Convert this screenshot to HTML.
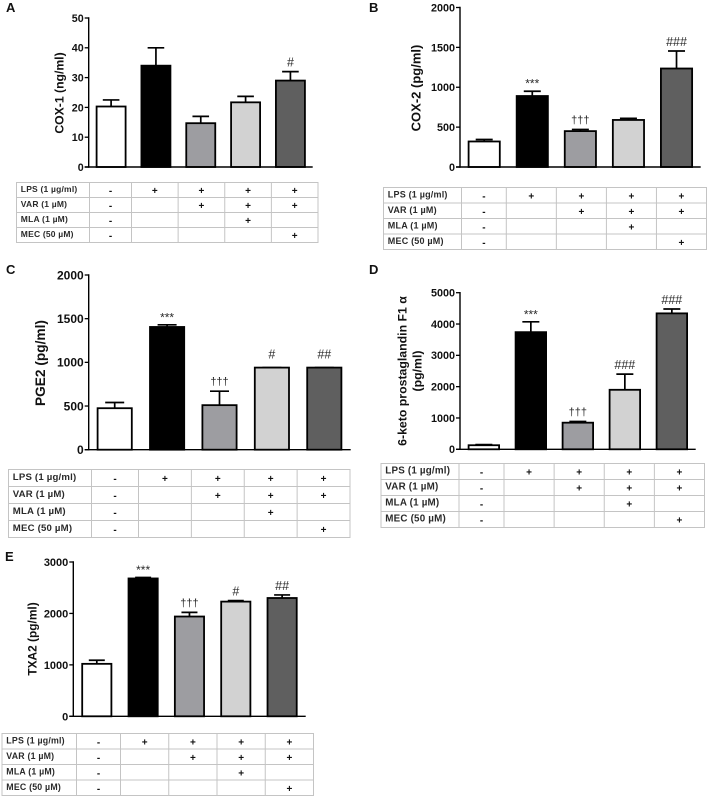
<!DOCTYPE html>
<html>
<head>
<meta charset="utf-8">
<title>Prostanoid and COX bar charts</title>
<style>
html,body{margin:0;padding:0;background:#fff;width:708px;height:797px;overflow:hidden}
svg{display:block;filter:blur(0.35px)}
text{font-family:"Liberation Sans",sans-serif}
</style>
</head>
<body>
<svg id="figure" xmlns="http://www.w3.org/2000/svg" width="708" height="797" viewBox="0 0 708 797"></svg>
<script>
// Data
const groupFills = ['#ffffff', '#000000', '#9d9da1', '#d2d2d2', '#5f5f5f'];
const rowLabels = ['LPS (1 µg/ml)', 'VAR (1 µM)', 'MLA (1 µM)', 'MEC (50 µM)'];
const rowMarksLps = ['-', '+', '+', '+', '+'];
const rowMarksVar = ['-', '', '+', '+', '+'];
const rowMarksMla = ['-', '', '', '+', ''];
const rowMarksMec = ['-', '', '', '', '+'];

const valuesA = [20.3, 34, 14.7, 21.7, 29];
const errorsA = [22.5, 40, 17, 23.7, 32];
const ticksA = [0, 10, 20, 30, 40, 50];
const sigA = ['', '', '', '', '#'];

const valuesB = [320, 890, 450, 590, 1235];
const errorsB = [345, 950, 470, 610, 1455];
const ticksB = [0, 500, 1000, 1500, 2000];
const sigB = ['', '***', '†††', '', '###'];

const valuesC = [475, 1405, 510, 940, 940];
const errorsC = [540, 1430, 670, 940, 940];
const ticksC = [0, 500, 1000, 1500, 2000];
const sigC = ['', '***', '†††', '#', '##'];

const valuesD = [130, 3740, 850, 1900, 4340];
const errorsD = [150, 4070, 890, 2400, 4480];
const ticksD = [0, 1000, 2000, 3000, 4000, 5000];
const sigD = ['', '***', '†††', '###', '###'];

const valuesE = [1020, 2680, 1940, 2230, 2300];
const errorsE = [1090, 2700, 2020, 2250, 2360];
const ticksE = [0, 1000, 2000, 3000];
const sigE = ['', '***', '†††', '#', '##'];

const svg = document.getElementById('figure');
const NS = 'http://www.w3.org/2000/svg';

function make(parent, tag, props, content) {
  const node = document.createElementNS(NS, tag);
  for (const k in props) node.setAttribute(k, props[k]);
  if (content !== undefined) node.textContent = content;
  parent.appendChild(node);
  return node;
}

function sigStyle(s, errY, flat) {
  const lift = flat ? 4 : 0;
  if (s.charAt(0) === '*') return {size: 12, y: errY - 3.5 - lift};
  if (s.charAt(0) === '†') return {size: 11, y: errY - 6 - lift};
  return {size: 12.5, y: errY - 5 - lift};
}

function drawPanel(id, values, errors, ticks, sig, g) {
  const panel = make(svg, 'g', {});
  
  

  const letter = make(panel, 'text', {x: g.letterX, y: g.letterY, 'font-size': 13, 'font-weight': 'bold', fill: '#111'}, id.toUpperCase());
  
  

  const maxTick = ticks[ticks.length - 1];
  const yOf = v => g.bottom - (v / maxTick) * (g.bottom - g.top);

  // bars and errors
  values.forEach((v, i) => {
    const x = g.barStart + i * g.barStep;
    const cx = x + g.barWidth / 2;
    const errY = yOf(errors[i]);
    const stem = make(panel, 'path', {d: 'M' + cx + ' ' + yOf(v) + 'V' + errY + 'M' + (cx - g.capHalf) + ' ' + errY + 'H' + (cx + g.capHalf), stroke: '#000', 'stroke-width': 1.7, fill: 'none'});
    
    
    const bar = make(panel, 'rect', {x: x, y: yOf(v), width: g.barWidth, height: g.bottom - yOf(v), fill: groupFills[i], stroke: '#000', 'stroke-width': 1.8});
    
    
    if (sig[i]) {
      const st = sigStyle(sig[i], errY, errors[i] <= values[i]);
      const mark = make(panel, 'text', {x: cx, y: st.y, 'text-anchor': 'middle', 'font-size': st.size, fill: '#2a2a2a'}, sig[i]);
      
      
    }
  });

  // axes
  const yAxis = make(panel, 'line', {x1: g.left, x2: g.left, y1: g.top - 0.7, y2: g.bottom + 0.7, stroke: '#000', 'stroke-width': 1.4});
  
  
  const xAxis = make(panel, 'line', {x1: g.left - 4, x2: g.right, y1: g.bottom, y2: g.bottom, stroke: '#000', 'stroke-width': 1.4});
  
  

  ticks.forEach(t => {
    const y = yOf(t);
    const tick = make(panel, 'line', {x1: g.left - 4, x2: g.left, y1: y, y2: y, stroke: '#000', 'stroke-width': 1.3});
    
    
    const label = make(panel, 'text', {x: g.left - 5, y: y + g.tickSize * 0.36, 'text-anchor': 'end', 'font-size': g.tickSize, 'font-weight': 'bold', fill: '#111'}, String(t));
    
    
  });

  // y title
  g.title.forEach((line, i) => {
    const tx = g.titleX + i * 15;
    const title = make(panel, 'text', {x: 0, y: 0, transform: 'translate(' + tx + ' ' + g.titleY + ') rotate(-90)', 'text-anchor': 'middle', 'font-size': g.titleSize, 'font-weight': g.titleWeight, fill: '#111'}, line);
    
    
  });

  // treatment table
  const t = g.table;
  const table = make(panel, 'g', {});
  
  
  const rowH = (t.bottom - t.top) / 4;
  const lineStyle = {stroke: '#c4c4c4', 'stroke-width': 1, fill: 'none'};
  make(table, 'rect', Object.assign({x: t.left, y: t.top, width: t.right - t.left, height: t.bottom - t.top}, lineStyle));
  for (let r = 1; r < 4; r++) {
    make(table, 'line', Object.assign({x1: t.left, x2: t.right, y1: t.top + r * rowH, y2: t.top + r * rowH}, lineStyle));
  }
  const firstCol = t.firstCol;
  const colW = (t.right - firstCol - t.secondCol) / 4;
  const edges = [firstCol, firstCol + t.secondCol];
  for (let c = 1; c < 4; c++) edges.push(firstCol + t.secondCol + c * colW);
  edges.push(t.right);
  edges.slice(0, 5).forEach(x => {
    make(table, 'line', Object.assign({x1: x, x2: x, y1: t.top, y2: t.bottom}, lineStyle));
  });
  const rows = [rowMarksLps, rowMarksVar, rowMarksMla, rowMarksMec];
  rowLabels.forEach((name, r) => {
    const cy = t.top + (r + 0.5) * rowH;
    const lbl = make(table, 'text', {x: t.left + 4.3, y: cy + 2, 'font-size': t.font, 'font-weight': 'bold', 'letter-spacing': 0.2, fill: '#2a2a2a'}, name);
    
    
    rows[r].forEach((m, c) => {
      if (!m) return;
      const sym = make(table, 'text', {x: (edges[c] + edges[c + 1]) / 2, y: cy + 4, 'text-anchor': 'middle', 'font-size': 10, 'font-weight': 'bold', fill: '#111'}, m);
      
      
    });
  });
}

drawPanel('a', valuesA, errorsA, ticksA, sigA, {
  letterX: 6, letterY: 12, left: 88.7, right: 312.7, top: 18, bottom: 167,
  barStart: 96.6, barStep: 44.83, barWidth: 29, capHalf: 8.3,
  tickSize: 10.7, title: ['COX-1 (ng/ml)'], titleX: 63.5, titleY: 93, titleSize: 12.2, titleWeight: 'bold',
  table: {left: 16.5, right: 318, top: 182.5, bottom: 242.5, firstCol: 89.5, secondCol: 42, font: 8.5}
});
drawPanel('b', valuesB, errorsB, ticksB, sigB, {
  letterX: 369, letterY: 12, left: 460, right: 700.7, top: 7.5, bottom: 167,
  barStart: 468.6, barStep: 48.08, barWidth: 31.2, capHalf: 8.5,
  tickSize: 10.8, title: ['COX-2 (pg/ml)'], titleX: 420.5, titleY: 88, titleSize: 13, titleWeight: 'bold',
  table: {left: 383.5, right: 706.5, top: 187.5, bottom: 249.5, firstCol: 461.5, secondCol: 44.8, font: 9}
});
drawPanel('c', valuesC, errorsC, ticksC, sigC, {
  letterX: 6, letterY: 274, left: 88.7, right: 350.7, top: 275, bottom: 449.7,
  barStart: 97.6, barStep: 52.4, barWidth: 34.2, capHalf: 9.5,
  tickSize: 12, title: ['PGE2 (pg/ml)'], titleX: 45, titleY: 363, titleSize: 13.7, titleWeight: 'bold',
  table: {left: 8.5, right: 350, top: 469.5, bottom: 537.5, firstCol: 91.5, secondCol: 47, font: 9.6}
});
drawPanel('d', valuesD, errorsD, ticksD, sigD, {
  letterX: 369, letterY: 274, left: 460, right: 695.7, top: 292.7, bottom: 449.3,
  barStart: 468.6, barStep: 47, barWidth: 30.5, capHalf: 8.5,
  tickSize: 10.8, title: ['6-keto prostaglandin F1 α', '(pg/ml)'], titleX: 406.5, titleY: 371, titleSize: 12.3, titleWeight: 'bold',
  table: {left: 381, right: 704.5, top: 463.5, bottom: 527.5, firstCol: 459, secondCol: 45, font: 9.8}
});
drawPanel('e', valuesE, errorsE, ticksE, sigE, {
  letterX: 5, letterY: 561, left: 73.3, right: 305.7, top: 562, bottom: 716.3,
  barStart: 82.2, barStep: 46.33, barWidth: 29.2, capHalf: 8,
  tickSize: 11, title: ['TXA2 (pg/ml)'], titleX: 36.5, titleY: 639, titleSize: 11.9, titleWeight: 'bold',
  table: {left: 2, right: 313.5, top: 733.5, bottom: 795.5, firstCol: 76.5, secondCol: 44, font: 8.8}
});
</script>
</body>
</html>
